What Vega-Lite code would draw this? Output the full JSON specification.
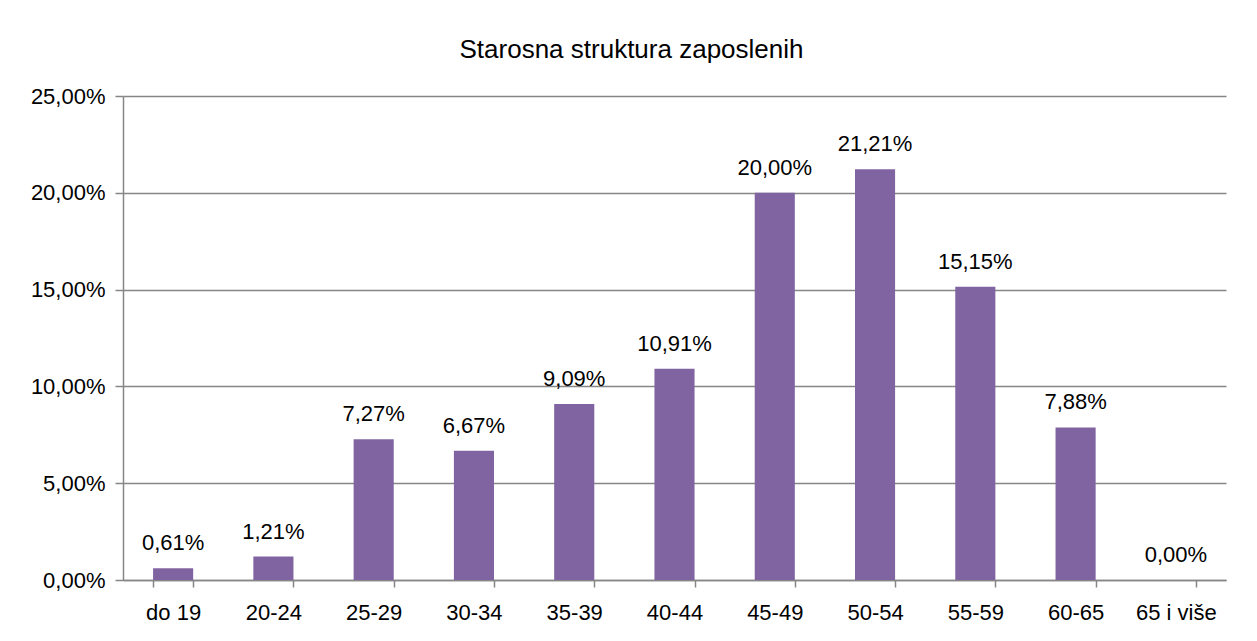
{
  "$schema": "https://vega.github.io/schema/vega-lite/v6.json",
  "width": 1103,
  "height": 484,
  "autosize": {"type": "none"},
  "padding": {"left": 123, "top": 96, "right": 31, "bottom": 61},
  "background": "white",
  "title": {
    "text": "Starosna struktura zaposlenih",
    "font": "Liberation Sans",
    "fontSize": 26,
    "fontWeight": "normal",
    "color": "black",
    "anchor": "middle",
    "frame": "group",
    "dx": -43,
    "dy": 27,
    "baseline": "alphabetic",
    "offset": 28
  },
  "data": {
    "values": [
      {"grupa": "do 19", "udio": 0.0061},
      {"grupa": "20-24", "udio": 0.0121},
      {"grupa": "25-29", "udio": 0.0727},
      {"grupa": "30-34", "udio": 0.0667},
      {"grupa": "35-39", "udio": 0.0909},
      {"grupa": "40-44", "udio": 0.1091},
      {"grupa": "45-49", "udio": 0.2000},
      {"grupa": "50-54", "udio": 0.2121},
      {"grupa": "55-59", "udio": 0.1515},
      {"grupa": "60-65", "udio": 0.0788},
      {"grupa": "65 i više", "udio": 0.0}
    ]
  },
  "encoding": {
    "x": {
      "field": "grupa",
      "type": "nominal",
      "sort": null,
      "scale": {"paddingInner": 0.6, "paddingOuter": 0.3},
      "axis": {
        "title": null,
        "labelAngle": 0,
        "labelFont": "Liberation Sans",
        "labelFontSize": 22,
        "labelColor": "black",
        "labelPadding": 15,
        "tickBand": "extent",
        "tickSize": 7,
        "tickColor": "#868686",
        "tickWidth": 1.5,
        "domainColor": "#868686",
        "domainWidth": 1.5
      }
    },
    "y": {
      "field": "udio",
      "type": "quantitative",
      "scale": {"domain": [0, 0.25], "nice": false},
      "axis": {
        "title": null,
        "values": [0, 0.05, 0.1, 0.15, 0.2, 0.25],
        "format": ".2%",
        "labelFont": "Liberation Sans",
        "labelFontSize": 22,
        "labelColor": "black",
        "labelPadding": 10,
        "tickSize": 8,
        "tickColor": "#868686",
        "tickWidth": 1.5,
        "domainColor": "#868686",
        "domainWidth": 1.5,
        "grid": true,
        "gridColor": "#868686",
        "gridWidth": 1.5
      }
    }
  },
  "layer": [
    {"mark": {"type": "bar", "color": "#8064A2"}},
    {
      "mark": {
        "type": "text",
        "baseline": "alphabetic",
        "dy": -18,
        "font": "Liberation Sans",
        "fontSize": 22,
        "color": "black"
      },
      "encoding": {"text": {"field": "udio", "type": "quantitative", "format": ".2%"}}
    }
  ],
  "config": {
    "locale": {
      "number": {"decimal": ",", "thousands": ".", "grouping": [3], "currency": ["", " €"]}
    },
    "view": {"stroke": null}
  }
}
